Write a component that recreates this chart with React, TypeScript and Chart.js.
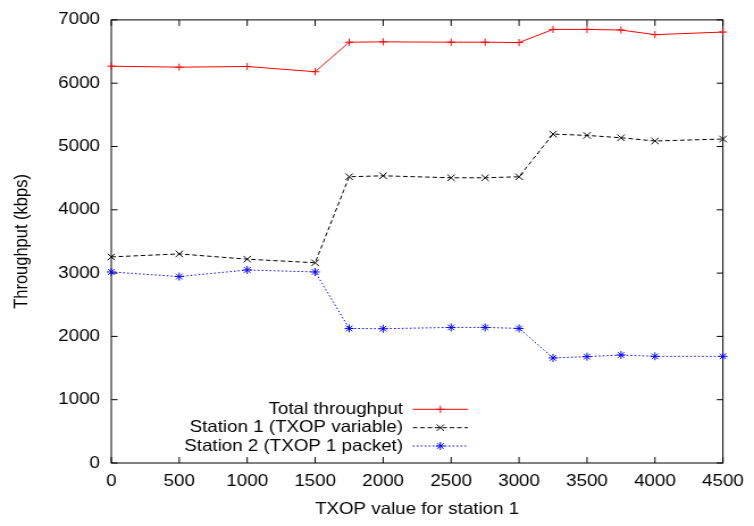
import React, { useEffect, useRef } from "react";
import { Chart, registerables } from "chart.js";

Chart.register(...registerables);

// ---- data ----
const txopValues = [0, 500, 1000, 1500, 1750, 2000, 2500, 2750, 3000, 3250, 3500, 3750, 4000, 4500];
const totalThroughput = [6269, 6253, 6264, 6181, 6648, 6653, 6648, 6648, 6642, 6850, 6850, 6840, 6767, 6808];
const station1 = [3256, 3303, 3220, 3163, 4522, 4537, 4506, 4506, 4522, 5196, 5175, 5138, 5087, 5118];
const station2 = [3018, 2945, 3049, 3018, 2126, 2121, 2142, 2142, 2126, 1660, 1680, 1706, 1685, 1685];
const seriesLabels = ["Total throughput", "Station 1 (TXOP variable)", "Station 2 (TXOP 1 packet)"];
const xTickValues = [0, 500, 1000, 1500, 2000, 2500, 3000, 3500, 4000, 4500];
const yTickValues = [0, 1000, 2000, 3000, 4000, 5000, 6000, 7000];
const xTitle = "TXOP value for station 1";
const yTitle = "Throughput (kbps)";

// internal drawing size (stretched horizontally by CSS to 754x526)
const INTERNAL_W = 664;
const INTERNAL_H = 526;
const FONT_FAMILY = '"Liberation Sans", Arial, Helvetica, sans-serif';
const FONT_SIZE = 16.5;

function drawMarker(ctx: CanvasRenderingContext2D, style: string, x: number, y: number, r: number) {
  ctx.beginPath();
  if (style === "cross" || style === "star") {
    ctx.moveTo(x - r, y);
    ctx.lineTo(x + r, y);
    ctx.moveTo(x, y - r);
    ctx.lineTo(x, y + r);
  }
  if (style === "crossRot" || style === "star") {
    const d = r * Math.SQRT1_2;
    ctx.moveTo(x - d, y - d);
    ctx.lineTo(x + d, y + d);
    ctx.moveTo(x - d, y + d);
    ctx.lineTo(x + d, y - d);
  }
  ctx.stroke();
}

const frameAndTicksPlugin = {
  id: "gnuFrame",
  beforeDatasetsDraw(chart: any) {
    const { ctx, chartArea: a, scales } = chart;
    ctx.save();
    ctx.strokeStyle = "#000";
    ctx.lineWidth = 1;
    ctx.setLineDash([]);
    ctx.strokeRect(a.left, a.top, a.right - a.left, a.bottom - a.top);
    const tl = 6;
    ctx.beginPath();
    for (const v of xTickValues) {
      const px = scales.x.getPixelForValue(v);
      ctx.moveTo(px, a.bottom);
      ctx.lineTo(px, a.bottom - tl);
      ctx.moveTo(px, a.top);
      ctx.lineTo(px, a.top + tl);
    }
    for (const v of yTickValues) {
      const py = scales.y.getPixelForValue(v);
      ctx.moveTo(a.left, py);
      ctx.lineTo(a.left + 5.5, py);
      ctx.moveTo(a.right, py);
      ctx.lineTo(a.right - 5.5, py);
    }
    ctx.stroke();
    ctx.restore();
  },
};

const legendPlugin = {
  id: "gnuLegend",
  afterDraw(chart: any) {
    const { ctx, chartArea: a } = chart;
    const w = a.right - a.left;
    const textRight = a.left + 0.477 * w;
    const x1 = a.left + 0.493 * w;
    const x2 = a.left + 0.583 * w;
    const rowsFromBottom = [53.7, 35.3, 17];
    chart.data.datasets.forEach((ds: any, i: number) => {
      const y = a.bottom - rowsFromBottom[i];
      ctx.save();
      ctx.font = `${FONT_SIZE}px ${FONT_FAMILY}`;
      ctx.fillStyle = "#000";
      ctx.textAlign = "right";
      ctx.textBaseline = "middle";
      ctx.fillText(ds.label, textRight, y);
      ctx.strokeStyle = ds.borderColor;
      ctx.lineWidth = 1;
      ctx.setLineDash(ds.borderDash || []);
      ctx.beginPath();
      ctx.moveTo(x1, y);
      ctx.lineTo(x2, y);
      ctx.stroke();
      ctx.setLineDash([]);
      drawMarker(ctx, ds.pointStyle, (x1 + x2) / 2, y, ds.pointRadius);
      ctx.restore();
    });
  },
};

export default function App() {
  const canvasRef = useRef<HTMLCanvasElement | null>(null);

  useEffect(() => {
    const canvas = canvasRef.current;
    if (!canvas) return;
    Chart.defaults.color = "#000";
    Chart.defaults.font.family = FONT_FAMILY;
    Chart.defaults.font.size = FONT_SIZE;

    const mk = (label: string, data: number[], color: string, dash: number[], pointStyle: string, r: number) => ({
      label,
      data: txopValues.map((x, i) => ({ x, y: data[i] })),
      borderColor: color,
      backgroundColor: color,
      borderWidth: 1,
      borderDash: dash,
      pointStyle,
      pointRadius: r,
      pointBorderWidth: 1,
      pointBorderColor: color,
      pointBackgroundColor: color,
      tension: 0,
      fill: false,
      clip: false,
    });

    const plain = (v: any) => String(v);

    const chart = new Chart(canvas, {
      type: "line",
      data: {
        datasets: [
          mk(seriesLabels[0], totalThroughput, "#ff0000", [], "cross", 3.6),
          mk(seriesLabels[1], station1, "#000000", [4, 2.5], "crossRot", 4.6),
          mk(seriesLabels[2], station2, "#0000ff", [1.5, 2], "star", 4),
        ] as any,
      },
      options: {
        animation: false,
        responsive: false,
        maintainAspectRatio: false,
        devicePixelRatio: 1,
        layout: { padding: { left: 0, top: 13, right: INTERNAL_W - 640, bottom: 0 } },
        plugins: {
          legend: { display: false },
          tooltip: { enabled: false },
        },
        scales: {
          x: {
            type: "linear",
            min: 0,
            max: 4500,
            grid: { display: false, drawTicks: false },
            border: { display: false },
            afterFit: (s: any) => {
              s.height = INTERNAL_H - 463;
            },
            afterBuildTicks: (s: any) => {
              s.ticks = xTickValues.map((v) => ({ value: v }));
            },
            ticks: { padding: 9, maxRotation: 0, autoSkip: false, color: "#000", callback: plain },
            title: {
              display: true,
              text: xTitle,
              color: "#000",
              padding: { top: 0, bottom: 7 },
            },
          },
          y: {
            type: "linear",
            min: 0,
            max: 7000,
            grid: { display: false, drawTicks: false },
            border: { display: false },
            afterFit: (s: any) => {
              s.width = 98;
            },
            afterBuildTicks: (s: any) => {
              s.ticks = yTickValues.map((v) => ({ value: v }));
            },
            ticks: { padding: 10, autoSkip: false, color: "#000", callback: plain },
            title: {
              display: true,
              text: yTitle,
              color: "#000",
              padding: { top: 10, bottom: 0 },
            },
          },
        },
      } as any,
      plugins: [frameAndTicksPlugin, legendPlugin],
    });
    return () => chart.destroy();
  }, []);

  return (
    <div style={{ position: "fixed", left: 0, top: 0, width: "754px", height: "526px", background: "#fff" }}>
      <canvas
        ref={canvasRef}
        width={INTERNAL_W}
        height={INTERNAL_H}
        style={{ width: "754px", height: "526px", display: "block" }}
      />
    </div>
  );
}
